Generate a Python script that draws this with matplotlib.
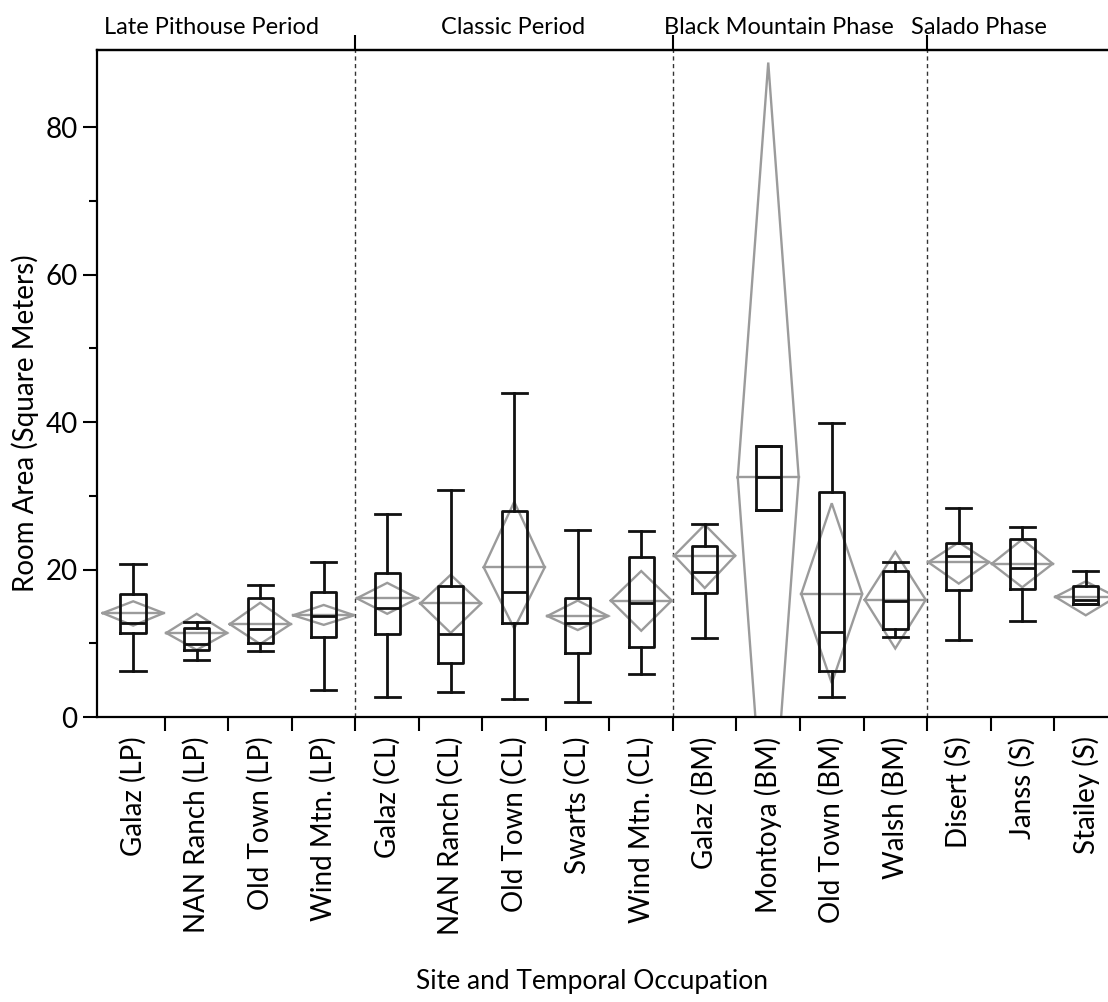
import numpy as np
import matplotlib
matplotlib.use("Agg")
import matplotlib.pyplot as plt
import matplotlib.transforms as mtransforms

plt.rcParams['font.family'] = ['Lato', 'DejaVu Sans']

# site / period categories
sites = ["Galaz (LP)", "NAN Ranch (LP)", "Old Town (LP)", "Wind Mtn. (LP)",
         "Galaz (CL)", "NAN Ranch (CL)", "Old Town (CL)", "Swarts (CL)", "Wind Mtn. (CL)",
         "Galaz (BM)", "Montoya (BM)", "Old Town (BM)", "Walsh (BM)",
         "Disert (S)", "Janss (S)", "Stailey (S)"]
periods = ["Late Pithouse Period", "Classic Period", "Black Mountain Phase", "Salado Phase"]
period_sizes = [4, 5, 4, 3]

# box plot stats (square meters)
whislo = [6.3, 7.7, 9.0, 3.6, 2.7, 3.4, 2.5, 2.1, 5.8, 10.7, 28.1, 2.7, 10.8, 10.5, 13.0, 15.3]
q1 = [11.4, 9.1, 10.0, 10.8, 11.3, 7.3, 12.7, 8.7, 9.5, 16.8, 28.1, 6.2, 12.0, 17.2, 17.3, 15.3]
med = [12.8, 9.9, 12.0, 13.7, 14.8, 11.3, 16.9, 12.8, 15.5, 19.7, 32.5, 11.5, 15.7, 21.9, 20.2, 15.9]
q3 = [16.7, 12.1, 16.2, 17.0, 19.5, 17.8, 27.9, 16.1, 21.7, 23.2, 36.8, 30.5, 19.8, 23.6, 24.1, 17.8]
whishi = [20.8, 12.9, 17.9, 21.0, 27.5, 30.8, 43.9, 25.4, 25.3, 26.2, 36.8, 39.9, 21.0, 28.4, 25.8, 19.8]

# mean diamonds (mean and confidence interval)
mean = [14.1, 11.4, 12.6, 13.8, 16.1, 15.4, 20.3, 13.7, 15.8, 21.9, 32.5, 16.7, 15.9, 21.0, 20.8, 16.3]
ci_hi = [15.7, 14.0, 15.5, 15.2, 18.2, 19.3, 29.2, 15.8, 19.8, 26.1, 88.8, 29.0, 22.4, 23.7, 24.1, 18.4]
ci_lo = [12.4, 9.1, 9.9, 12.5, 14.0, 11.4, 12.0, 11.8, 11.7, 17.5, -23.8, 4.6, 9.3, 18.1, 17.6, 13.8]

fig = plt.figure(figsize=(11.08, 10.02), dpi=100)
ax = fig.add_axes([97 / 1108, 1 - 717 / 1002, 1011 / 1108, 667 / 1002])

pos = np.arange(len(sites))
gray = "#9b9b9b"

# diamonds first so boxes sit on top
hw = 0.48
for i in pos:
    ax.plot([i - hw, i, i + hw, i, i - hw], [mean[i], ci_hi[i], mean[i], ci_lo[i], mean[i]],
            color=gray, lw=1.7, zorder=2, solid_joinstyle='miter')
    ax.plot([i - hw, i + hw], [mean[i], mean[i]], color=gray, lw=1.7, zorder=2)

stats = [dict(whislo=whislo[i], q1=q1[i], med=med[i], q3=q3[i], whishi=whishi[i], fliers=[])
         for i in pos]
blk = dict(color="#111111", lw=2.0)
ax.bxp(stats, positions=pos, widths=0.4, capwidths=0.4, showfliers=False, patch_artist=False,
       boxprops=blk, whiskerprops=blk, capprops=blk, medianprops=blk,
       manage_ticks=False, zorder=3)

# period separators
bounds = np.cumsum(period_sizes)[:-1] - 0.5
for b in bounds:
    ax.axvline(b, color="#333333", lw=1.0, ls=(0, (3, 2.5)), zorder=1)

ax.set_xlim(-0.57, 15.35)
ax.set_ylim(0, 90.5)

for s in ['left', 'bottom', 'top']:
    ax.spines[s].set_linewidth(1.6)
ax.spines['right'].set_visible(False)

ax.set_yticks([0, 20, 40, 60, 80])
ax.set_yticks([10, 30, 50, 70], minor=True)
ax.tick_params(axis='y', which='major', length=10, width=1.5, labelsize=20, pad=4)
ax.tick_params(axis='y', which='minor', length=6, width=1.5)

ax.set_xticks(np.arange(0.5, 15.0, 1.0))
ax.set_xticklabels([])
ax.set_xticks(pos, minor=True)
ax.set_xticklabels(sites, minor=True, rotation=90)
ax.tick_params(axis='x', which='major', length=10, width=1.5)
ax.tick_params(axis='x', which='minor', length=0, labelsize=20, pad=14)

top = ax.secondary_xaxis('top')
top.set_xticks(bounds)
top.set_xticklabels([])
top.tick_params(length=11, width=1.5)
top.spines['top'].set_linewidth(1.6)

trans = mtransforms.blended_transform_factory(ax.transData, ax.transAxes)
label_x = [1.24, 5.98, 10.16, 13.31]
for name, x in zip(periods, label_x):
    ax.text(x, 1.033, name, transform=trans, ha='center', va='center', fontsize=17)

fig.text(25 / 1108, 1 - 423 / 1002, "Room Area (Square Meters)", rotation=90,
         ha='center', va='center', fontsize=20)
fig.text(592 / 1108, 1 - 982 / 1002, "Site and Temporal Occupation",
         ha='center', va='center', fontsize=19)

fig.savefig("out.png", dpi=100)
